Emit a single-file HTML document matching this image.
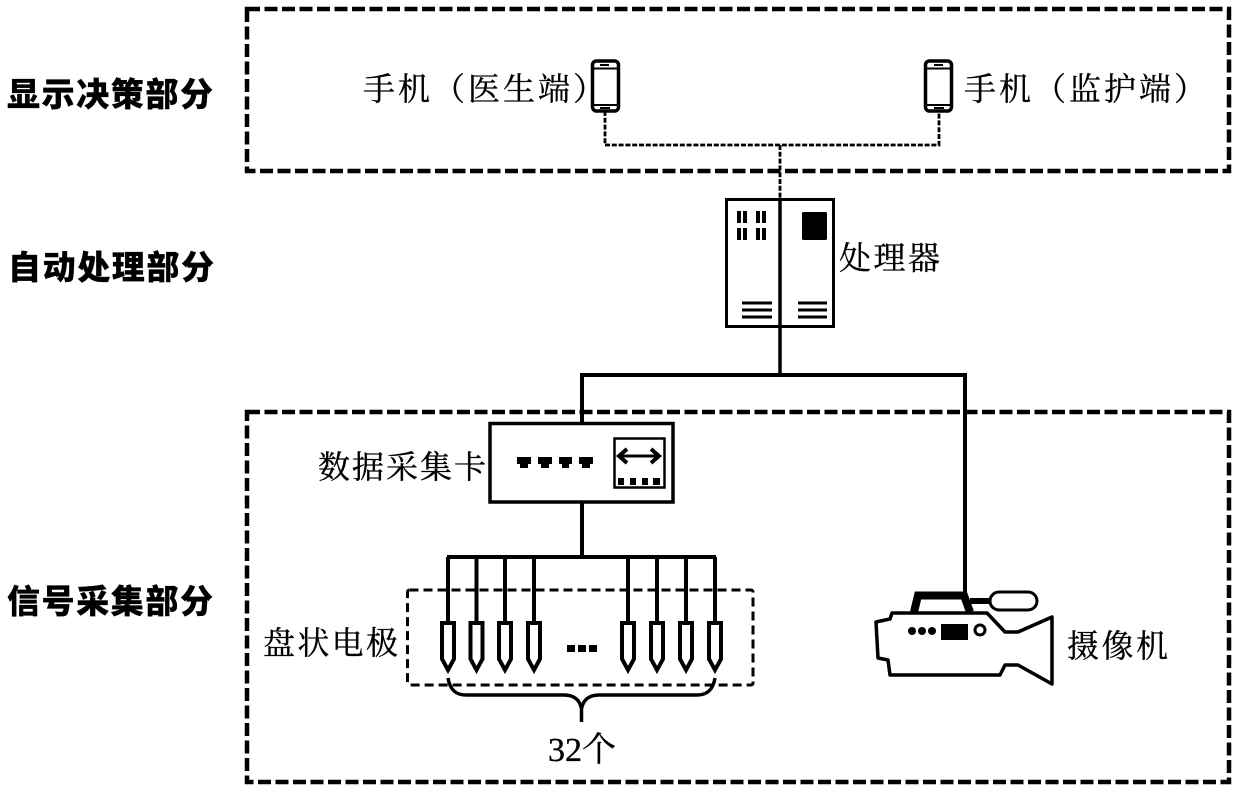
<!DOCTYPE html>
<html><head><meta charset="utf-8"><style>
html,body{margin:0;padding:0;background:#fff}
svg{display:block}
.b{font-family:"Liberation Sans","Noto Sans CJK SC",sans-serif;font-weight:900;font-size:33px;letter-spacing:1.6px;fill:#000;stroke:#000;stroke-width:.2px}
.s{font-family:"Liberation Serif","Noto Serif CJK SC",serif;font-size:32px;fill:#000;stroke:#000;stroke-width:.35px}
</style></head><body>
<svg width="1240" height="792" viewBox="0 0 1240 792" xmlns="http://www.w3.org/2000/svg">
<rect width="1240" height="792" fill="#fff"/>
<g fill="none" stroke="#000">
<rect x="247" y="9" width="982" height="162" stroke-width="4.500" stroke-dasharray="13 4.500"/>
<rect x="247" y="412" width="982" height="370" stroke-width="4.500" stroke-dasharray="13 4.500"/>
<path d="M605 111V145H939V111M780 145V199" stroke-width="2.800" stroke-dasharray="5 1.800"/>
<rect x="592.500" y="61" width="26" height="50" rx="4" stroke-width="3.500"/>
<rect x="925.500" y="61" width="26" height="50" rx="4" stroke-width="3.500"/>
<path d="M594 68.500H617M594 105H617M927 68.500H950M927 105H950" stroke-width="2"/>
<path d="M600 65H609M934 65H943M600 108H610M934 108H944" stroke-width="2"/>
<rect x="726.500" y="199.500" width="107" height="127" stroke-width="3"/>
<path d="M780 199V375" stroke-width="3.500"/>
<path d="M582 424V375H965V592" stroke-width="4"/>
<path d="M742 303H772M742 310H772M742 317H772M798 303H827M798 310H827M798 317H827" stroke-width="3"/>
<rect x="490" y="423.500" width="183" height="78.500" stroke-width="3.500"/>
<path d="M582 502V557" stroke-width="4"/>
<rect x="614.500" y="438.500" width="50" height="49" stroke-width="2.500"/>
<path d="M621 456H657" stroke-width="3"/>
<path d="M627 449L619 456L627 463M651 449L659 456L651 463" stroke-width="4"/>
<rect x="407.500" y="590" width="345.500" height="95" rx="2" stroke-width="3" stroke-dasharray="9 5"/>
<path d="M447 557H716" stroke-width="4"/>
<path d="M448 557V622M476.500 557V622M505 557V622M534 557V622M628 557V622M657 557V622M686 557V622M715 557V622" stroke-width="4"/>
<g stroke-width="4" stroke-linejoin="miter">
<path d="M442 623H454V659L448 670L442 659Z"/>
<path d="M470.500 623H482.500V659L476.500 670L470.500 659Z"/>
<path d="M499 623H511V659L505 670L499 659Z"/>
<path d="M528 623H540V659L534 670L528 659Z"/>
<path d="M622 623H634V659L628 670L622 659Z"/>
<path d="M651 623H663V659L657 670L651 659Z"/>
<path d="M680 623H692V659L686 670L680 659Z"/>
<path d="M709 623H721V659L715 670L709 659Z"/>
</g>
<path d="M448 678C450 690 456 695 466 695H564C574 695 580 700 581.500 709V722M715 678C713 690 707 695 697 695H599C589 695 583 700 581.500 709" stroke-width="3.500"/>
<path d="M876 622L890 619L892 613H987L1005 632H1018L1052 617V684L1018 665H1005L1000 675H890L888 660L878 658Z" stroke-width="3.500" stroke-linejoin="round"/>
<path d="M914 612L918 595.500H964L970 612" stroke-width="8"/>
<path d="M970 601H990" stroke-width="6"/>
<rect x="990" y="592" width="47" height="18" rx="9" stroke-width="3"/>
<circle cx="980" cy="630" r="5" stroke-width="3"/>
</g>
<g fill="#000">
<rect x="737" y="211" width="4" height="12"/><rect x="743" y="211" width="4" height="12"/><rect x="756" y="211" width="4" height="12"/><rect x="762" y="211" width="4" height="12"/>
<rect x="737" y="228" width="4" height="12"/><rect x="743" y="228" width="4" height="12"/><rect x="756" y="228" width="4" height="12"/><rect x="762" y="228" width="4" height="12"/>
<rect x="802" y="212" width="25" height="28" rx="1.500"/>
<path d="M517 457H531V464H528V468H520V464H517ZM538 457H552V464H549V468H541V464H538ZM559 457H572V464H569V468H562V464H559ZM579 457H593V464H590V468H582V464H579Z"/>
<rect x="618" y="478" width="6" height="7"/><rect x="630" y="478" width="6" height="7"/><rect x="642" y="478" width="6" height="7"/><rect x="653" y="478" width="7" height="7"/>
<rect x="567" y="645" width="8" height="7"/><rect x="578" y="645" width="8" height="7"/><rect x="589" y="645" width="8" height="7"/>
<circle cx="912" cy="631" r="4"/><circle cx="922" cy="631" r="4"/><circle cx="932" cy="631" r="4"/>
<rect x="941" y="624" width="27" height="16"/>
</g>
<text class="b" x="7" y="106">显示决策部分</text>
<text class="b" x="8" y="279">自动处理部分</text>
<text class="b" x="7" y="613">信号采集部分</text>
<text class="s" x="363" y="100" letter-spacing="3">手机（医生端）</text>
<text class="s" x="964" y="100" letter-spacing="3">手机（监护端）</text>
<text class="s" x="839" y="269" textLength="101" lengthAdjust="spacing">处理器</text>
<text class="s" x="318" y="478" textLength="168" lengthAdjust="spacing">数据采集卡</text>
<text class="s" x="263" y="654" textLength="135" lengthAdjust="spacing">盘状电极</text>
<text class="s" x="1067" y="657" textLength="101" lengthAdjust="spacing">摄像机</text>
<text class="s" x="548" y="761" font-size="34" style="font-size:34px">32个</text>
</svg>
</body></html>
